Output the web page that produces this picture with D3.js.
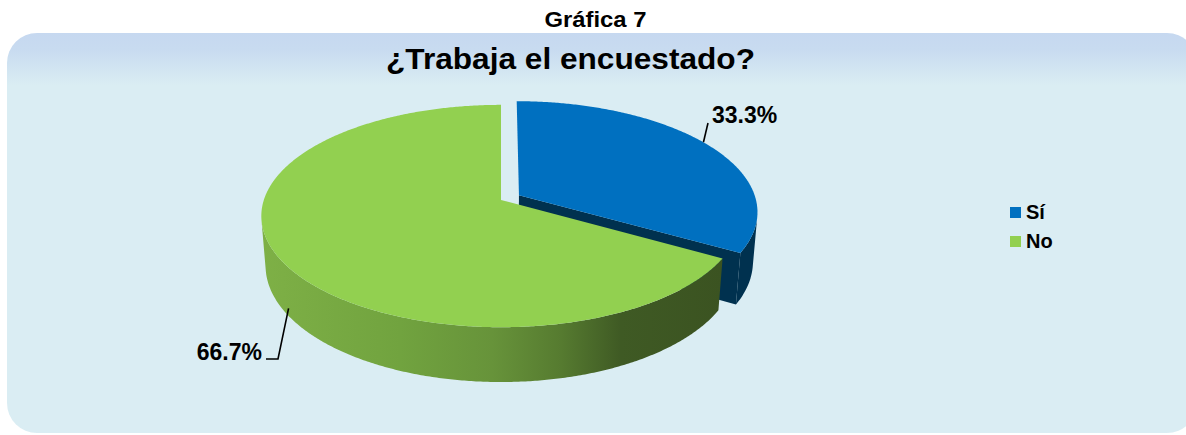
<!DOCTYPE html>
<html>
<head>
<meta charset="utf-8">
<script src="https://cdn.jsdelivr.net/npm/d3@7"></script>
<style>
  html, body { margin: 0; padding: 0; background: #ffffff; }
  svg { display: block; }
  text { font-family: "Liberation Sans", Arial, sans-serif; font-weight: bold; fill: #000; }
</style>
</head>
<body>
<svg id="chart" width="1186" height="435"></svg>
<script>
// ---- data ----
const categories = ["Sí", "No"];
const values = [33.3, 66.7];
const valueLabels = ["33.3%", "66.7%"];
const chartNumber = "Gráfica 7";
const chartTitle = "¿Trabaja el encuestado?";

// ---- styles ----
const topColors = ["#0070C0", "#92D050"];
const sideColors = ["#00314F", null];

const svg = d3.select("#chart");
const defs = svg.append("defs");

// panel background gradient
const bg = defs.append("linearGradient").attr("id", "bgGrad")
  .attr("x1", 0).attr("y1", 0).attr("x2", 0).attr("y2", 1);
bg.append("stop").attr("offset", "0%").attr("stop-color", "#C6D8F0");
bg.append("stop").attr("offset", "4%").attr("stop-color", "#C8DBF0");
bg.append("stop").attr("offset", "13%").attr("stop-color", "#DAEDF3");
bg.append("stop").attr("offset", "100%").attr("stop-color", "#DAEDF3");

// green side gradient
const gg = defs.append("linearGradient").attr("id", "greenSide")
  .attr("gradientUnits", "userSpaceOnUse")
  .attr("x1", 262).attr("y1", 0).attr("x2", 722).attr("y2", 0);
[["0%", "#7EB046"], ["30%", "#71A33F"], ["50%", "#67933A"], ["65%", "#567B30"],
 ["78%", "#3F5A24"], ["100%", "#3B5321"]].forEach(([o, c]) =>
  gg.append("stop").attr("offset", o).attr("stop-color", c));

svg.append("rect").attr("x", 7).attr("y", 33).attr("width", 1190).attr("height", 400)
  .attr("rx", 30).attr("ry", 30).attr("fill", "url(#bgGrad)");

// titles
svg.append("text").attr("x", 595.5).attr("y", 27).attr("text-anchor", "middle")
  .attr("font-size", 22).attr("textLength", 102).attr("lengthAdjust", "spacingAndGlyphs")
  .text(chartNumber);
svg.append("text").attr("x", 570.5).attr("y", 69).attr("text-anchor", "middle")
  .attr("font-size", 30).attr("textLength", 369).attr("lengthAdjust", "spacingAndGlyphs")
  .text(chartTitle);

// ---- 3D perspective projection ----
const cx = 501, cy = 200, k = 1461, dist = 6.16, sinP = 0.459;
const cosP = Math.sqrt(1 - sinP * sinP);
const depth = 0.238, explode = 0.088;
function proj(X, h, Z) {
  const zc = dist + h * sinP - cosP * Z;
  return [cx + k * X / zc, cy + k * (h * cosP + sinP * Z) / zc];
}
function rim(a, r, off, h) {
  return proj(off[0] + r * Math.sin(a), h, off[1] - r * Math.cos(a));
}

const pie = d3.pie().sort(null).value(d => d)(values);
const line = d3.line();
const deg = Math.PI / 180;

function sampleAngles(a0, a1) {
  const n = Math.max(2, Math.ceil(Math.abs(a1 - a0) / (0.5 * deg)));
  return d3.range(n + 1).map(i => a0 + (a1 - a0) * i / n);
}
function frontFacing(a, off) {
  // outward normal (sin a, 0, -cos a) dot (camera - point) > 0
  const camY = dist * sinP, camZ = dist * cosP;
  const X = off[0] + Math.sin(a), Z = off[1] - Math.cos(a);
  return (-X) * Math.sin(a) + (camZ - Z) * (-Math.cos(a)) > 0;
}

const slices = pie.map((p, i) => {
  const mid = (p.startAngle + p.endAngle) / 2;
  const off = i === 0 ? [explode * Math.sin(mid), -explode * Math.cos(mid)] : [0, 0];
  return { p, i, off };
});

function drawSide(s, fill) {
  const angs = sampleAngles(s.p.startAngle, s.p.endAngle).filter(a => frontFacing(a, s.off));
  if (angs.length < 2) return;
  const pts = angs.map(a => rim(a, 1, s.off, 0))
    .concat(angs.slice().reverse().map(a => rim(a, 1, s.off, depth)));
  svg.append("path").attr("d", line(pts) + "Z").attr("fill", fill);
}
function drawRadial(s, a, fill) {
  const pts = [proj(s.off[0], 0, s.off[1]), rim(a, 1, s.off, 0), rim(a, 1, s.off, depth), proj(s.off[0], depth, s.off[1])];
  svg.append("path").attr("d", line(pts) + "Z").attr("fill", fill);
}
function drawTop(s, fill) {
  const pts = [proj(s.off[0], 0, s.off[1])].concat(sampleAngles(s.p.startAngle, s.p.endAngle).map(a => rim(a, 1, s.off, 0)));
  svg.append("path").attr("d", line(pts) + "Z").attr("fill", fill);
}

// blue (Sí) first: it's behind
const sBlue = slices[0], sGreen = slices[1];
drawRadial(sBlue, sBlue.p.endAngle, sideColors[0]);
drawSide(sBlue, sideColors[0]);
drawTop(sBlue, topColors[0]);
drawSide(sGreen, "url(#greenSide)");
drawTop(sGreen, topColors[1]);

// ---- data labels with leader lines ----
const lblBlueAnchor = rim(58 * deg, 1, sBlue.off, 0);
svg.append("path").attr("d", line([lblBlueAnchor, [708, 123]]))
  .attr("stroke", "#000").attr("stroke-width", 1.6).attr("fill", "none");
svg.append("text").attr("x", 712).attr("y", 123).attr("font-size", 23).text(valueLabels[0]);

const lblGreenAnchor = rim(237 * deg, 1, sGreen.off, 0.2);
svg.append("path").attr("d", line([lblGreenAnchor, [278, 359], [266, 359]]))
  .attr("stroke", "#000").attr("stroke-width", 1.6).attr("fill", "none");
svg.append("text").attr("x", 262).attr("y", 360).attr("text-anchor", "end").attr("font-size", 23).text(valueLabels[1]);

// ---- legend ----
const legend = svg.append("g").attr("transform", "translate(1010,207)");
categories.forEach((c, i) => {
  const g = legend.append("g").attr("transform", `translate(0,${i * 29})`);
  g.append("rect").attr("width", 11).attr("height", 11).attr("fill", topColors[i]);
  g.append("text").attr("x", 16).attr("y", 12).attr("font-size", 20).text(c);
});
</script>
</body>
</html>
